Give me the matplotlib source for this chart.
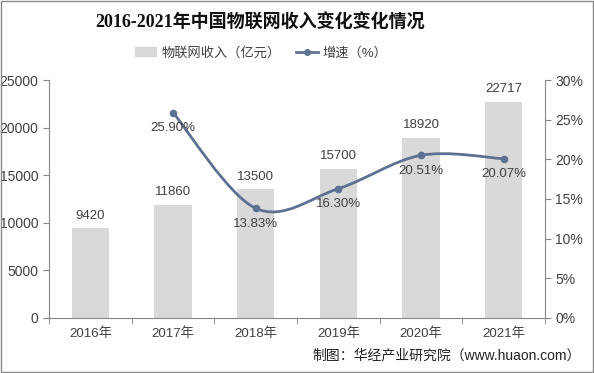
import matplotlib.pyplot as plt
import numpy as np
from matplotlib.path import Path
from matplotlib.patches import PathPatch, Rectangle
from matplotlib.lines import Line2D

plt.rcParams['font.family'] = ['Liberation Sans', 'Noto Sans CJK SC']

years = ['2016年', '2017年', '2018年', '2019年', '2020年', '2021年']
revenue = [9420, 11860, 13500, 15700, 18920, 22717]
growth = [None, 25.90, 13.83, 16.30, 20.51, 20.07]

bar_color = '#d9d9d9'
line_color = '#5f7193'
text_color = '#404040'
axis_color = '#868686'

fig = plt.figure(figsize=(5.94, 3.73), dpi=100)
ax = fig.add_axes([0.0825, 0.1475, 0.835, 0.638])
ax2 = ax.twinx()

x = np.arange(len(years))
ax.bar(x, revenue, width=0.45, color=bar_color, zorder=1)
for xi, v in zip(x, revenue):
    ax.text(xi, v + 700, str(v), ha='center', va='bottom', fontsize=9.5, color=text_color)

ax.set_xlim(-0.5, len(years) - 0.5)
ax.set_ylim(0, 25000)
ax.set_yticks(range(0, 25001, 5000))
ax.set_xticks(x)
ax.set_xticklabels(years)
ax.set_xticks(np.arange(-0.5, len(years), 1), minor=True)
ax.tick_params(axis='x', which='major', length=0, labelsize=9.5, colors=text_color, pad=7)
ax.tick_params(axis='x', which='minor', length=4, color=axis_color, direction='out')
ax.tick_params(axis='y', labelsize=10, colors=text_color, length=4, color=axis_color)

for spine in ['top', 'right']:
    ax.spines[spine].set_visible(False)
    ax2.spines[spine].set_visible(False)
ax2.spines['left'].set_visible(False)
ax2.spines['bottom'].set_visible(False)
ax2.spines['right'].set_visible(True)
for s in [ax.spines['left'], ax.spines['bottom'], ax2.spines['right']]:
    s.set_color(axis_color)
    s.set_linewidth(0.8)

ax2.set_ylim(0, 30)
ax2.set_yticks(range(0, 31, 5))
ax2.set_yticklabels([f'{t}%' for t in range(0, 31, 5)])
ax2.tick_params(axis='y', labelsize=10, colors=text_color, length=4, color=axis_color)

# smoothed line (Catmull-Rom style bezier through points)
gx = [xi for xi, g in zip(x, growth) if g is not None]
gy = [g for g in growth if g is not None]
pts = np.column_stack([gx, gy]).astype(float)
verts = [tuple(pts[0])]
codes = [Path.MOVETO]
n = len(pts)
for i in range(n - 1):
    p0 = pts[max(i - 1, 0)]
    p1 = pts[i]
    p2 = pts[i + 1]
    p3 = pts[min(i + 2, n - 1)]
    c1 = p1 + (p2 - p0) / 6
    c2 = p2 - (p3 - p1) / 6
    verts += [tuple(c1), tuple(c2), tuple(p2)]
    codes += [Path.CURVE4] * 3
ax2.add_patch(PathPatch(Path(verts, codes), facecolor='none', edgecolor=line_color, lw=2, zorder=3))
ax2.plot(gx, gy, 'o', color=line_color, markersize=4.5, zorder=4)
for xi, g in zip(gx, gy):
    ax2.text(xi, g - 1.2, f'{g:.2f}%', ha='center', va='top', fontsize=9.5, color=text_color, zorder=5)

fig.text(0.438, 0.94, '2016-2021年中国物联网收入变化变化情况', ha='center', va='center',
         fontsize=13, fontweight='bold', color='#111111',
         family=['Liberation Serif', 'Noto Sans CJK SC'])

handles = [Rectangle((0, 0), 1, 1, color=bar_color),
           Line2D([0], [0], color=line_color, lw=2, marker='o', markersize=4)]
fig.legend(handles, ['物联网收入（亿元）', '增速（%）'], loc='center', bbox_to_anchor=(0.44, 0.858),
           ncol=2, frameon=False, fontsize=9.5, labelcolor=text_color, handlelength=1.6,
           columnspacing=1.2, handletextpad=0.4)

fig.text(0.977, 0.048, '制图：华经产业研究院（www.huaon.com）', ha='right', va='center',
         fontsize=10, color='#222222')

fig.patches.append(Rectangle((0.002, 0.003), 0.996, 0.994, transform=fig.transFigure,
                             fill=False, edgecolor='#888888', lw=1))

fig.savefig('out.png', dpi=100)
